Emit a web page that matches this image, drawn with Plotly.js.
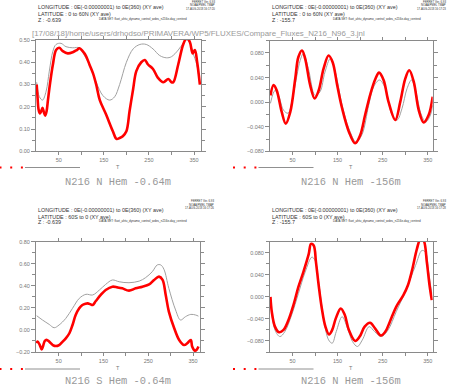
<!DOCTYPE html>
<html>
<head>
<meta charset="utf-8">
<script src="https://cdn.plot.ly/plotly-3.0.1.min.js"></script>
<style>html,body{margin:0;padding:0;background:#fff;}#chart{width:450px;height:387px;}</style>
</head>
<body>
<div id="chart"></div>
<script>
// ---------- DATA ----------
// Panel 1: N216 N Hem -0.64m  (red = model, grey = reference)
const nh064RedT = [1,3,5,8,11,14,17,20,23,26,31,37,44,51,59,70,81,90,96,103,110,118,126,133,141,155,170,178,185,192,200,207,215,222,233,241,248,259,270,282,293,300,304,315,326,334,341,347,352,357,363];
const nh064Red  = [0.30,0.24,0.19,0.17,0.18,0.195,0.175,0.16,0.18,0.23,0.31,0.39,0.455,0.465,0.45,0.44,0.445,0.455,0.463,0.45,0.43,0.39,0.35,0.30,0.23,0.165,0.09,0.056,0.06,0.068,0.09,0.18,0.28,0.36,0.40,0.41,0.39,0.37,0.33,0.31,0.325,0.31,0.31,0.39,0.48,0.51,0.49,0.44,0.455,0.40,0.30];
const nh064GreyT = [1,7,14,22,29,37,44,55,66,81,96,107,118,133,148,163,174,185,200,215,230,244,259,274,289,300,315,326,334,341,348,356,363];
const nh064Grey  = [0.31,0.245,0.23,0.27,0.36,0.45,0.48,0.485,0.47,0.465,0.465,0.43,0.39,0.31,0.25,0.23,0.245,0.30,0.40,0.46,0.48,0.48,0.46,0.43,0.42,0.425,0.455,0.485,0.50,0.485,0.44,0.39,0.30];

// Panel 2: N216 N Hem -156m
const nh156RedT = [1,8,15,26,35,45,56,63,71,78,89,99,108,119,130,139,149,160,175,189,200,211,223,234,242,252,263,278,289,300,309,319,330,341,352,361];
const nh156Red  = [0.011,0.028,0.019,-0.016,-0.035,-0.016,0.038,0.0735,0.084,0.071,0.028,0.006,0.019,0.055,0.076,0.065,0.028,-0.010,-0.048,-0.067,-0.054,-0.021,0.014,0.038,0.048,0.036,0.0005,-0.029,0.0005,0.038,0.052,0.033,-0.013,-0.033,-0.021,0.009];
const nh156GreyT = [1,11,19,30,40,52,67,74,85,100,111,122,134,145,160,175,191,204,219,230,243,256,271,282,293,304,314,323,336,346,356,361];
const nh156Grey  = [-0.002,0.019,0.011,-0.013,-0.018,0.014,0.068,0.079,0.055,0.011,0.017,0.049,0.071,0.049,-0.005,-0.043,-0.065,-0.053,-0.005,0.025,0.036,0.022,-0.021,-0.029,-0.010,0.022,0.036,0.019,-0.021,-0.032,-0.021,-0.005];

// Panel 3: N216 S Hem -0.64m
const sh064RedT = [1,3,8,12,15,19,23,29,37,44,51,59,66,74,81,88,96,103,110,115,121,126,133,144,155,170,181,192,207,222,237,252,263,274,282,289,296,308,319,330,337,345,348,354,358,362];
const sh064Red  = [-0.12,-0.105,-0.137,-0.176,-0.15,-0.10,-0.09,-0.106,-0.137,-0.146,-0.137,-0.106,-0.076,-0.03,0.045,0.135,0.196,0.226,0.238,0.241,0.232,0.226,0.262,0.317,0.362,0.392,0.386,0.377,0.356,0.377,0.392,0.413,0.453,0.483,0.453,0.317,0.166,0.015,-0.091,-0.137,-0.121,-0.091,-0.15,-0.188,-0.18,-0.15];
const sh064GreyT = [1,14,29,40,51,66,81,96,111,126,141,155,170,185,207,230,244,259,270,278,285,296,311,322,333,345,356,362];
const sh064Grey  = [0.129,0.09,0.05,0.02,0.045,0.105,0.196,0.286,0.323,0.317,0.362,0.413,0.453,0.437,0.428,0.443,0.474,0.528,0.589,0.589,0.55,0.377,0.181,0.09,0.12,0.141,0.135,0.125];

// Panel 4: N216 N Hem -156m (second set)
const nh156bRedT = [1,4,11,20,30,41,52,63,74,86,91,97,102,108,115,123,131,138,146,157,166,175,189,199,210,222,233,246,256,266,280,296,306,316,326,334,341,348,354,359];
const nh156bRed  = [0.0,-0.027,-0.054,-0.064,-0.060,-0.042,-0.015,0.018,0.045,0.078,0.096,0.093,0.063,0.021,-0.021,-0.054,-0.068,-0.060,-0.039,-0.021,-0.033,-0.060,-0.080,-0.072,-0.054,-0.047,-0.057,-0.070,-0.063,-0.045,-0.018,0.003,0.021,0.051,0.087,0.105,0.102,0.063,0.021,-0.006];
const nh156bGreyT = [1,11,22,33,48,63,78,93,100,108,119,130,138,147,160,172,183,194,205,220,232,247,262,280,300,323,337,345,352,359];
const nh156bGrey  = [-0.003,-0.060,-0.072,-0.063,-0.033,0.006,0.045,0.072,0.066,0.027,-0.039,-0.078,-0.084,-0.063,-0.036,-0.057,-0.081,-0.090,-0.078,-0.054,-0.063,-0.072,-0.060,-0.027,0.009,0.057,0.084,0.081,0.045,0.006];

const panelLabels = ['N216 N Hem -0.64m','N216 N Hem -156m','N216 S Hem -0.64m','N216 N Hem -156m'];
const latLabels = ['LATITUDE : 0 to 60N (XY ave)','LATITUDE : 0 to 60N (XY ave)','LATITUDE : 60S to 0 (XY ave)','LATITUDE : 60S to 0 (XY ave)'];
const zLabels = ['Z : -0.639','Z : -155.7','Z : -0.639','Z : -155.7'];
const stampTimes = ['17-AUG-2018 16:17:20','17-AUG-2018 16:17:23','17-AUG-2018 16:17:26','17-AUG-2018 16:17:28'];
const xTickVals = [50,100,150,200,250,300,350];
const xTickText = ['50','','150','','250','','350'];
const lonLabel = 'LONGITUDE : 0E(-0.00000001) to 0E(360) (XY ave)';
const dataSetLabel = 'DATA SET: fluxt_ahtu_dynamo_control_wdes_n216e-day_centred';
const jnlTitle = '[17/08/18]/home/users/drhodso/PRIMAVERA/WP5/FLUXES/Compare_Fluxes_N216_N96_3.jnl';

// ---------- LAYOUT ----------
const W = 450, H = 387;
const px = x => x / W, py = y => 1 - y / H;
const RED = '#ff0000', GREY = '#a0a0a0', AX = '#8a8a8a', TXT = '#777777';
const sans = 'Liberation Sans, Arial, sans-serif';
const mono = 'Liberation Mono, Courier New, monospace';

// plot-area boxes in pixels: [x0, x1, y0(top), y1(bottom)]
const boxes = [[36, 201, 40, 151.3],[270, 432.7, 40.7, 151.3],[36, 200, 241.7, 352],[270, 432.7, 241.7, 352]];
const yRanges = [[0, 0.5],[-0.08, 0.1],[-0.2, 0.8],[-0.1, 0.1]];
const xRanges = [[-0.5, 365.5],[0, 361],[-0.5, 365.5],[0, 361]];
const yDt = [0.1, 0.04, 0.2, 0.04];
const yMinor = [0.05, 0.02, 0.1, 0.02];
const yFmt = ['.2f','.3f','.2f','.3f'];

const series = [
  [nh064RedT, nh064Red, nh064GreyT, nh064Grey],
  [nh156RedT, nh156Red, nh156GreyT, nh156Grey],
  [sh064RedT, sh064Red, sh064GreyT, sh064Grey],
  [nh156bRedT, nh156bRed, nh156bGreyT, nh156bGrey]
];

const data = [];
const layout = {
  width: W, height: H, margin: {l:0, r:0, t:0, b:0},
  paper_bgcolor: '#fff', plot_bgcolor: '#fff', showlegend: false,
  annotations: [], shapes: []
};

function ann(text, x, y, size, opts) {
  layout.annotations.push(Object.assign({
    text: text, xref: 'paper', yref: 'paper', x: px(x), y: py(y),
    xanchor: 'left', yanchor: 'middle', showarrow: false,
    font: {family: sans, size: size, color: '#333'}
  }, opts || {}));
}

for (let i = 0; i < 4; i++) {
  const n = i + 1;
  const sfx = n === 1 ? '' : String(n);
  const b = boxes[i];
  const [rt, rv, gt, gv] = series[i];
  data.push({x: gt, y: gv, xaxis: 'x' + sfx, yaxis: 'y' + sfx,
    type: 'scatter', mode: 'lines', line: {color: GREY, width: 1, shape: 'spline', smoothing: 1}, hoverinfo: 'skip'});
  data.push({x: rt, y: rv, xaxis: 'x' + sfx, yaxis: 'y' + sfx,
    type: 'scatter', mode: 'lines', line: {color: RED, width: 2.6, shape: 'spline', smoothing: 1}, hoverinfo: 'skip'});

  layout['xaxis' + sfx] = {
    domain: [px(b[0]), px(b[1])], range: xRanges[i], anchor: 'y' + sfx,
    showgrid: false, zeroline: false, showline: true, linecolor: AX, linewidth: 1, mirror: 'allticks',
    ticks: 'outside', ticklen: 3, tickcolor: AX, tickvals: xTickVals, ticktext: xTickText,
    tickfont: {family: sans, size: 5.5, color: TXT}
  };
  layout['yaxis' + sfx] = {
    domain: [py(b[3]), py(b[2])], range: yRanges[i], anchor: 'x' + sfx,
    showgrid: false, zeroline: false, showline: true, linecolor: AX, linewidth: 1, mirror: 'allticks',
    ticks: 'outside', ticklen: 4, tickcolor: AX, dtick: yDt[i], tick0: 0, tickformat: yFmt[i],
    minor: {dtick: yMinor[i], tick0: 0, ticks: 'outside', ticklen: 3, tickcolor: AX},
    tickfont: {family: sans, size: 5.5, color: TXT}
  };

  // axis label "T"
  const cx = (b[0] + b[1]) / 2;
  ann('T', cx, b[3] + 16, 5.5, {xanchor: 'center', font: {family: sans, size: 5.5, color: TXT}});
  // bottom panel label
  ann(panelLabels[i], cx, i < 2 ? 181.7 : 381.2, 10.4, {xanchor: 'center', font: {family: mono, size: 10.4, color: '#999999'}});

  // legend key: three red dots and a grey line
  const ly = b[3] + 16.2 + (i >= 2 ? 0.8 : 0);
  const lx = i % 2 === 0 ? 0.5 : 234;
  [0, 10.7, 21.4].forEach(d => {
    layout.shapes.push({type: 'rect', xref: 'paper', yref: 'paper',
      x0: px(lx + d - 1), x1: px(lx + d + 1), y0: py(ly + 1), y1: py(ly - 1),
      fillcolor: RED, line: {width: 0}});
  });
  layout.shapes.push({type: 'line', xref: 'paper', yref: 'paper',
    x0: px(lx + 24.5), x1: px(lx + 79.5), y0: py(ly), y1: py(ly), line: {color: '#909090', width: 1}});

  // header block
  const hx = b[0];
  const hy = i < 2 ? 7.3 : 209.5;
  ann(lonLabel, hx, hy, 5.4, {font: {family: sans, size: 5.4, color: '#333'}});
  ann(latLabels[i], hx, hy + 7.0, 5.4, {font: {family: sans, size: 5.4, color: '#333'}});
  ann(zLabels[i], hx, hy + 12.8, 5.4, {font: {family: sans, size: 5.4, color: '#333'}});
  ann(dataSetLabel, hx + 61, hy + 11.3, 3, {font: {family: sans, size: 3, color: '#333'}});
  // Ferret stamp (top right)
  const sx = b[1] + 15.5;
  const sy = i < 2 ? 2 : 201.2;
  ann('FERRET Ver. 6.93', sx, sy, 2.8, {xanchor: 'right', font: {family: sans, size: 2.8, color: '#333'}});
  ann('NOAA/PMEL TMAP', sx, sy + 3.3, 2.8, {xanchor: 'right', font: {family: sans, size: 2.8, color: '#333'}});
  ann(stampTimes[i], sx, sy + 6.6, 2.8, {xanchor: 'right', font: {family: sans, size: 2.8, color: '#333'}});
}

// journal-file title across the top row
ann(jnlTitle, 30, 33.5, 7.9, {font: {family: sans, size: 7.9, color: '#9a9a9a'}});

Plotly.newPlot('chart', data, layout, {staticPlot: true, displayModeBar: false});
</script>
</body>
</html>
